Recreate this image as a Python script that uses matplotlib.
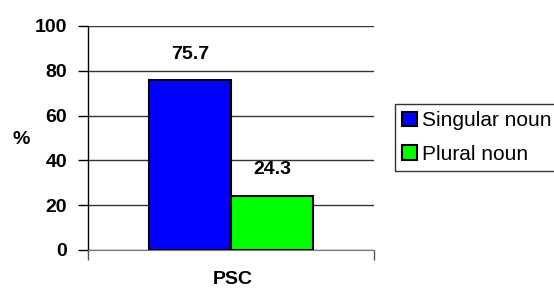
import matplotlib
matplotlib.use("Agg")
import matplotlib.pyplot as plt
import numpy as np

# данные
categories = ["PSC"]
series_names = ["Singular noun", "Plural noun"]
singular = [75.7]
plural = [24.3]
y_ticks = [0, 20, 40, 60, 80, 100]

colors = ["#0000FF", "#00FF00"]

plt.rcParams["font.family"] = ["Liberation Sans", "DejaVu Sans"]

fig = plt.figure(figsize=(5.54, 2.89), dpi=100)
ax = fig.add_axes([88 / 554, 1 - 250 / 289, 286 / 554, 224 / 289])

x = np.arange(len(categories))
w = 0.287
bars1 = ax.bar(x - w / 2, singular, w, color=colors[0], edgecolor="black",
               linewidth=1.5, label=series_names[0], zorder=3)
bars2 = ax.bar(x + w / 2, plural, w, color=colors[1], edgecolor="black",
               linewidth=1.5, label=series_names[1], zorder=3)

# подписи значений
for b in list(bars1) + list(bars2):
    ax.text(b.get_x() + b.get_width() / 2, b.get_height() + 8, f"{b.get_height():.1f}",
            ha="center", va="bottom", fontsize=14, fontweight="bold")

ax.set_xlim(-0.5, 0.5)
ax.set_ylim(0, 100)
ax.set_yticks(y_ticks)
ax.set_yticklabels([str(t) for t in y_ticks], fontsize=14, fontweight="bold")
ax.yaxis.grid(True, color="#333333", linewidth=1)
ax.set_axisbelow(True)

ax.set_xticks([-0.5, 0.5])
ax.set_xticklabels(["", ""])
ax.tick_params(axis="x", length=7, color="#555555", width=1)
ax.tick_params(axis="y", length=7, width=1, pad=8)

fig.text(233 / 554, 1 - 280 / 289, categories[0], ha="center", va="center",
         fontsize=14, fontweight="bold")

ax.spines["top"].set_visible(False)
ax.spines["right"].set_visible(False)
ax.spines["bottom"].set_color("#777777")
ax.spines["left"].set_linewidth(1)

fig.text(21 / 554, 1 - 140 / 289, "%", ha="center", va="center",
         fontsize=14, fontweight="bold")

leg = fig.legend(loc="upper left", bbox_to_anchor=(395 / 554, 1 - 104 / 289),
                 borderaxespad=0, fontsize=15, frameon=True, fancybox=False,
                 handlelength=0.7, handleheight=0.7, handletextpad=0.25,
                 labelspacing=0.7, borderpad=0.35)
leg.get_frame().set_edgecolor("black")
leg.get_frame().set_linewidth(1)
for h in leg.legend_handles:
    h.set_linewidth(1.5)

fig.savefig("out.png", dpi=100)
